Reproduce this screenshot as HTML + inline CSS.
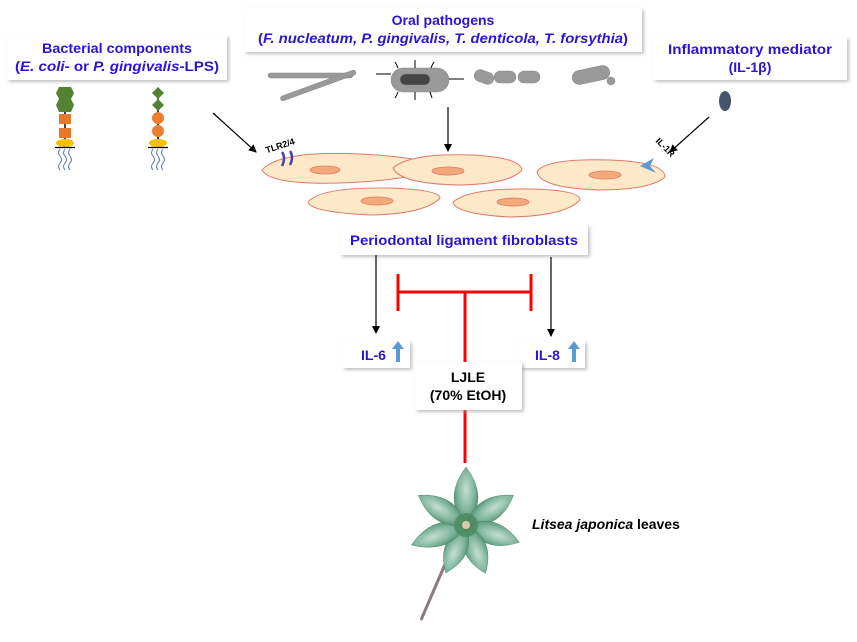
<!DOCTYPE html>
<html><head><meta charset="utf-8"><style>
html,body{margin:0;padding:0;background:#fff;}
svg{display:block;}
text{font-family:"Liberation Sans","DejaVu Sans",sans-serif;}
</style></head><body>
<svg width="857" height="642" viewBox="0 0 857 642" xmlns="http://www.w3.org/2000/svg">
<defs>
<filter id="sh" x="-10%" y="-20%" width="130%" height="160%"><feDropShadow dx="2" dy="2" stdDeviation="1.5" flood-color="#999" flood-opacity="0.6"/></filter>
<marker id="ah" markerWidth="8" markerHeight="8" refX="7" refY="4" orient="auto" markerUnits="userSpaceOnUse"><path d="M0,0 L8,4 L0,8 z" fill="#000"/></marker>
<radialGradient id="lf" cx="50%" cy="40%" r="65%"><stop offset="0" stop-color="#c4e0d4"/><stop offset="0.55" stop-color="#7fb49c"/><stop offset="1" stop-color="#3f7f5f"/></radialGradient>
</defs>

<g filter="url(#sh)" fill="#fff">
<rect x="7" y="35" width="220" height="45"/>
<rect x="244" y="8" width="398" height="44"/>
<rect x="653" y="37" width="194" height="43"/>
<rect x="340" y="225" width="248" height="30"/>
<rect x="342" y="341" width="68" height="27"/>
<rect x="515" y="341" width="70" height="27"/>
</g>
<g font-weight="bold" fill="#2a14d6" font-size="14" text-anchor="middle">
<text x="117" y="53" textLength="150" lengthAdjust="spacingAndGlyphs">Bacterial components</text>
<text x="117" y="71" textLength="204" lengthAdjust="spacingAndGlyphs">(<tspan font-style="italic">E. coli</tspan>- or <tspan font-style="italic">P. gingivalis</tspan>-LPS)</text>
<text x="443" y="25">Oral pathogens</text>
<text x="443" y="43" textLength="370" lengthAdjust="spacingAndGlyphs">(<tspan font-style="italic">F. nucleatum, P. gingivalis, T. denticola, T. forsythia</tspan>)</text>
<text x="750" y="54" textLength="164" lengthAdjust="spacingAndGlyphs">Inflammatory mediator</text>
<text x="750" y="72">(IL-1β)</text>
<text x="464" y="245" textLength="228" lengthAdjust="spacingAndGlyphs">Periodontal ligament fibroblasts</text>
<text x="361" y="360" text-anchor="start">IL-6</text>
<text x="535" y="360" text-anchor="start">IL-8</text>
</g>
<g fill="#5b9bd5">
<path d="M398,341 l-6,8 h4 v13 h4 v-13 h4 z"/>
<path d="M574,341 l-6,8 h4 v13 h4 v-13 h4 z"/>
</g>

<g>
<line x1="65" y1="110" x2="65" y2="146" stroke="#000" stroke-width="1.5"/>
<polygon points="59,87 71,87 74,93 71,99 59,99 56,93" fill="#548235"/>
<polygon points="59,99 71,99 74,105 71,112 59,112 56,105" fill="#548235"/>
<rect x="59" y="114" width="12" height="10" fill="#e8792a"/>
<rect x="59" y="128" width="12" height="10" fill="#e8792a"/>
<ellipse cx="65" cy="143" rx="9" ry="4" fill="#f5c000"/>
<line x1="55" y1="147.5" x2="75" y2="147.5" stroke="#000" stroke-width="1.2"/>
<line x1="158" y1="95" x2="158" y2="146" stroke="#000" stroke-width="1.5"/>
<polygon points="158,87 164,93 158,99 152,93" fill="#548235"/>
<polygon points="158,99 164,105 158,111 152,105" fill="#548235"/>
<circle cx="158" cy="118" r="6" fill="#ed7d31"/>
<circle cx="158" cy="131" r="6" fill="#ed7d31"/>
<ellipse cx="158" cy="143" rx="9" ry="4" fill="#f5c000"/>
<line x1="148" y1="147.5" x2="168" y2="147.5" stroke="#000" stroke-width="1.2"/>
<g fill="none" stroke="#5b7fb0" stroke-width="1">
<path d="M60,149 q-3,4 0,7 q3,4 0,7 q-3,4 0,7"/><path d="M65,149 q-3,4 0,7 q3,4 0,7 q-3,4 0,7"/><path d="M70,149 q-3,4 0,7 q3,4 0,7 q-3,4 0,7"/>
<path d="M153,149 q-3,4 0,7 q3,4 0,7 q-3,4 0,7"/><path d="M158,149 q-3,4 0,7 q3,4 0,7 q-3,4 0,7"/><path d="M163,149 q-3,4 0,7 q3,4 0,7 q-3,4 0,7"/>
</g>
</g>

<g fill="#999" stroke="#888" stroke-width="0.5">
<rect x="268" y="73" width="85" height="5" rx="2.5"/>
<rect x="278" y="83" width="80" height="5" rx="2.5" transform="rotate(-20 318 85)"/>
<rect x="391" y="68" width="58" height="24" rx="12" fill="#9a9a9a"/>
<rect x="400" y="74" width="30" height="11" rx="5.5" fill="#444"/>
<rect x="474" y="71" width="20" height="12" rx="6" transform="rotate(20 484 77)"/>
<rect x="494" y="71" width="22" height="12" rx="6"/>
<rect x="518" y="71" width="22" height="12" rx="6"/>
<rect x="572" y="68" width="38" height="14" rx="7" transform="rotate(-12 591 75)"/>
<circle cx="611" cy="81" r="4"/>
</g>
<g stroke="#000" stroke-width="1" fill="none">
<path d="M376,74 h15 M449,79 h15 M395,62 q2,3 3,6 M415,60 v8 M434,62 q-2,3 -3,6 M395,98 q2,-3 3,-6 M415,100 v-8 M432,98 q-1,-3 -2,-6"/>
</g>

<ellipse cx="725" cy="101" rx="6" ry="10" fill="#44546a"/>

<g stroke="#000" stroke-width="1.2" fill="none" marker-end="url(#ah)">
<line x1="213" y1="113" x2="256" y2="152"/>
<line x1="448" y1="107" x2="448" y2="151"/>
<line x1="709" y1="117" x2="670" y2="152"/>
<line x1="376" y1="255" x2="376" y2="333"/>
<line x1="551" y1="257" x2="551" y2="336"/>
</g>

<g fill="#fde9c8" stroke="#e0786a" stroke-width="1">
<path d="M262,170 Q280,150 360,154 Q420,157 437,166 Q420,180 340,183 Q270,185 262,170 z"/>
<path d="M393,168 Q410,153 470,155 Q520,157 522,170 Q510,184 460,185 Q400,184 393,168 z"/>
<path d="M537,172 Q545,158 610,160 Q665,162 665,177 Q650,190 600,190 Q540,188 537,172 z"/>
<path d="M308,202 Q320,187 390,188 Q440,190 440,198 Q425,214 370,215 Q310,212 308,202 z"/>
<path d="M453,202 Q470,188 530,189 Q580,190 580,200 Q565,216 510,217 Q455,214 453,202 z"/>
</g>
<g fill="#f4a97a" stroke="#e0786a" stroke-width="0.8">
<ellipse cx="325" cy="170" rx="15" ry="4"/>
<ellipse cx="448" cy="171" rx="16" ry="4"/>
<ellipse cx="605" cy="175" rx="16" ry="4"/>
<ellipse cx="377" cy="201" rx="16" ry="4"/>
<ellipse cx="513" cy="202" rx="16" ry="4"/>
</g>
<g fill="none" stroke="#4b3fa8" stroke-width="2.5">
<path d="M282,152 q4,6 0,14"/><path d="M290,151 q4,6 0,14"/>
</g>
<text x="265" y="150" font-size="9" font-weight="bold" transform="rotate(-18 276 146)">TLR2/4</text>
<path d="M640,166 l14,-8 l-4,8 l6,7 z" fill="#5b9bd5"/>
<text x="650" y="146" font-size="9" font-weight="bold" transform="rotate(45 658 150)">IL-1R</text>

<g stroke="#ff0000" stroke-width="3" fill="none">
<line x1="398" y1="274" x2="398" y2="311"/>
<line x1="531" y1="274" x2="531" y2="311"/>
<line x1="398" y1="292" x2="531" y2="292"/>
<line x1="465" y1="292" x2="465" y2="362"/>
<line x1="465" y1="410" x2="465" y2="463"/>
</g>
<rect x="415" y="362" width="107" height="48" fill="#fff" filter="url(#sh)"/>
<text x="468" y="382" font-size="14" font-weight="bold" text-anchor="middle">LJLE</text>
<text x="468" y="400" font-size="14" font-weight="bold" text-anchor="middle">(70% EtOH)</text>

<line x1="446" y1="562" x2="421" y2="620" stroke="#8a7a7e" stroke-width="3"/>
<g fill="url(#lf)" stroke="#4e8a6c" stroke-width="0.5">
<g transform="translate(466,525)">
<path d="M0,0 Q-24,-26 0,-58 Q24,-26 0,0 z"/>
<path d="M0,0 Q-22,-26 0,-56 Q22,-26 0,0 z" transform="rotate(58)"/>
<path d="M0,0 Q-22,-26 0,-56 Q22,-26 0,0 z" transform="rotate(108)"/>
<path d="M0,0 Q-22,-24 0,-52 Q22,-24 0,0 z" transform="rotate(158)"/>
<path d="M0,0 Q-22,-24 0,-52 Q22,-24 0,0 z" transform="rotate(203)"/>
<path d="M0,0 Q-22,-26 0,-58 Q22,-26 0,0 z" transform="rotate(250)"/>
<path d="M0,0 Q-22,-26 0,-56 Q22,-26 0,0 z" transform="rotate(302)"/>
</g>
</g>
<circle cx="466" cy="525" r="12" fill="#4e8a5c" opacity="0.8"/>
<circle cx="466" cy="525" r="4" fill="#d9c9b0"/>
<text x="532" y="529" font-size="14" font-weight="bold"><tspan font-style="italic">Litsea japonica</tspan> leaves</text>
</svg>
</body></html>
